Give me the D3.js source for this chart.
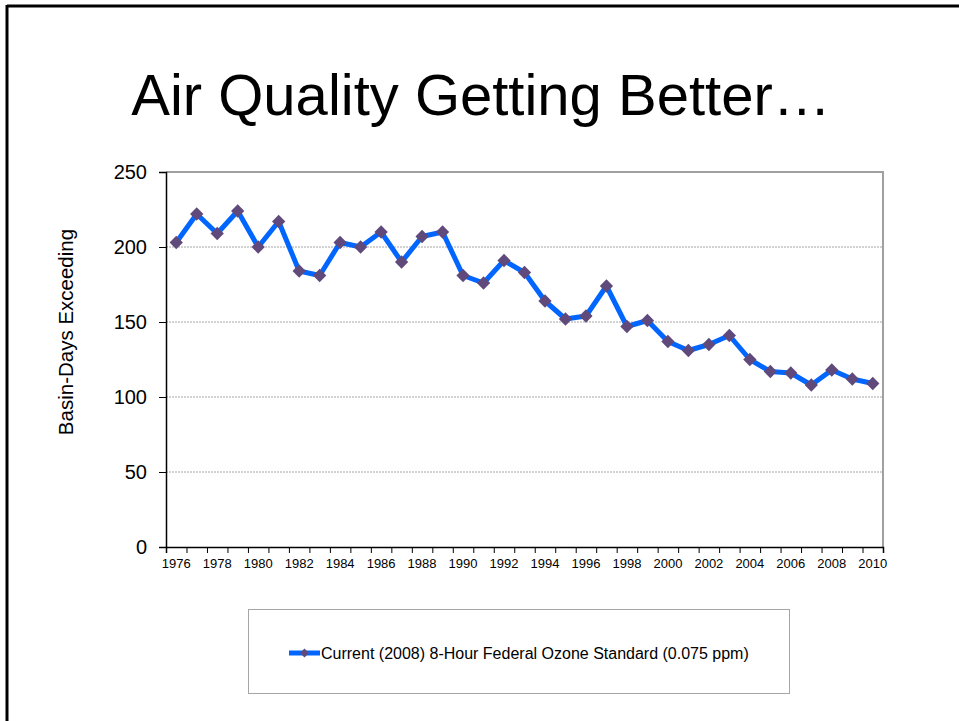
<!DOCTYPE html>
<html>
<head>
<meta charset="utf-8">
<script src="https://cdn.jsdelivr.net/npm/d3@7"></script>
<style>
  body { margin: 0; background: #fff; }
  text { font-family: "Liberation Sans", Arial, sans-serif; fill: #000; }
</style>
</head>
<body>
<div id="chart"></div>
<script>
var years = [1976, 1977, 1978, 1979, 1980, 1981, 1982, 1983, 1984, 1985,
  1986, 1987, 1988, 1989, 1990, 1991, 1992, 1993, 1994, 1995,
  1996, 1997, 1998, 1999, 2000, 2001, 2002, 2003, 2004, 2005,
  2006, 2007, 2008, 2009, 2010];
var basinDays = [203, 222, 209, 224, 200, 217, 184, 181, 203, 200,
  210, 190, 207, 210, 181, 176, 191, 183, 164, 152,
  154, 174, 147, 151, 137, 131, 135, 141, 125, 117,
  116, 108, 118, 112, 109];
var yTicks = [0, 50, 100, 150, 200, 250];
var seriesName = "Current (2008) 8-Hour Federal Ozone Standard (0.075 ppm)";

var width = 959, height = 721;
var plot = {left: 166, right: 883, top: 172, bottom: 547};

var svg = d3.select("#chart")
  .append("svg")
  .attr("width", width)
  .attr("height", height);

// slide frame (top and left edges only visible)
svg.append("line").attr("x1", 7).attr("x2", width).attr("y1", 6).attr("y2", 6)
  .attr("stroke", "#000").attr("stroke-width", 3);
svg.append("line").attr("x1", 7).attr("x2", 7).attr("y1", 5).attr("y2", height)
  .attr("stroke", "#000").attr("stroke-width", 3);

svg.append("text")
  .attr("x", 481).attr("y", 115)
  .attr("text-anchor", "middle")
  .style("font-size", "58px")
  .text("Air Quality Getting Better\u2026");

var x = d3.scaleBand().domain(years).range([plot.left, plot.right]).padding(0);
var xIdx = d3.scaleLinear().domain([0, years.length]).range([plot.left, plot.right]);
var y = d3.scaleLinear().domain([0, 250]).range([plot.bottom, plot.top]);

// gridlines
svg.append("g")
  .selectAll("line")
  .data(yTicks.filter(function(d) { return d > 0 && d < 250; }))
  .enter().append("line")
    .attr("x1", plot.left).attr("x2", plot.right)
    .attr("y1", function(d) { return y(d); })
    .attr("y2", function(d) { return y(d); })
    .attr("stroke", "#a6a6a6")
    .attr("stroke-width", 1)
    .attr("stroke-dasharray", "2,1");

// plot area border (top/right)
svg.append("path")
  .attr("d", "M" + plot.left + "," + y(250) + "H" + plot.right + "V" + plot.bottom)
  .attr("fill", "none")
  .attr("stroke", "#a0a0a0")
  .attr("stroke-width", 2);

// y axis
var yAxis = svg.append("g")
  .attr("transform", "translate(" + plot.left + ",0)")
  .call(d3.axisLeft(y).tickValues(yTicks).tickSize(7).tickPadding(12));
yAxis.select(".domain").attr("stroke", "#000").attr("stroke-width", 1.5);
yAxis.selectAll(".tick line").attr("stroke", "#000");
yAxis.selectAll("text").style("font-size", "20px").attr("fill", "#000");

// x axis: ticks at category boundaries
var xTicks = svg.append("g")
  .attr("transform", "translate(0," + plot.bottom + ")")
  .call(d3.axisBottom(xIdx).tickValues(d3.range(years.length + 1)).tickSize(6).tickFormat(""));
xTicks.select(".domain").attr("stroke", "#000").attr("stroke-width", 1.5);
xTicks.selectAll(".tick line").attr("stroke", "#000");

// x labels every other year
var xLabels = svg.append("g")
  .attr("transform", "translate(0," + plot.bottom + ")")
  .call(d3.axisBottom(x)
    .tickValues(years.filter(function(d, i) { return i % 2 === 0; }))
    .tickSize(0).tickPadding(11.5));
xLabels.select(".domain").remove();
xLabels.selectAll("text").style("font-size", "13px").attr("fill", "#000");

svg.append("text")
  .attr("transform", "translate(72.5,332) rotate(-90)")
  .attr("text-anchor", "middle")
  .style("font-size", "20.5px")
  .text("Basin-Days Exceeding");

var data = years.map(function(yr, i) { return {year: yr, value: basinDays[i]}; });

var line = d3.line()
  .x(function(d) { return x(d.year) + x.bandwidth() / 2; })
  .y(function(d) { return y(d.value); });

svg.append("path")
  .datum(data)
  .attr("d", line)
  .attr("fill", "none")
  .attr("stroke", "#0066ff")
  .attr("stroke-width", 5)
  .attr("stroke-linejoin", "round");

var diamond = d3.symbol().type(d3.symbolSquare).size(88);

svg.append("g")
  .selectAll("path")
  .data(data)
  .enter().append("path")
    .attr("d", diamond)
    .attr("transform", function(d) {
      return "translate(" + (x(d.year) + x.bandwidth() / 2) + "," + y(d.value) + ") rotate(45)";
    })
    .attr("fill", "#604a7b");

// legend
var legend = svg.append("g");
legend.append("rect")
  .attr("x", 248.5).attr("y", 609.5)
  .attr("width", 541).attr("height", 84)
  .attr("fill", "#fff")
  .attr("stroke", "#a6a6a6");
legend.append("line")
  .attr("x1", 289).attr("x2", 320).attr("y1", 653).attr("y2", 653)
  .attr("stroke", "#0066ff").attr("stroke-width", 5);
legend.append("path")
  .attr("d", d3.symbol().type(d3.symbolSquare).size(40))
  .attr("transform", "translate(304.5,653) rotate(45)")
  .attr("fill", "#604a7b");
legend.append("text")
  .attr("x", 321).attr("y", 659)
  .style("font-size", "16px")
  .text(seriesName);
</script>
</body>
</html>
